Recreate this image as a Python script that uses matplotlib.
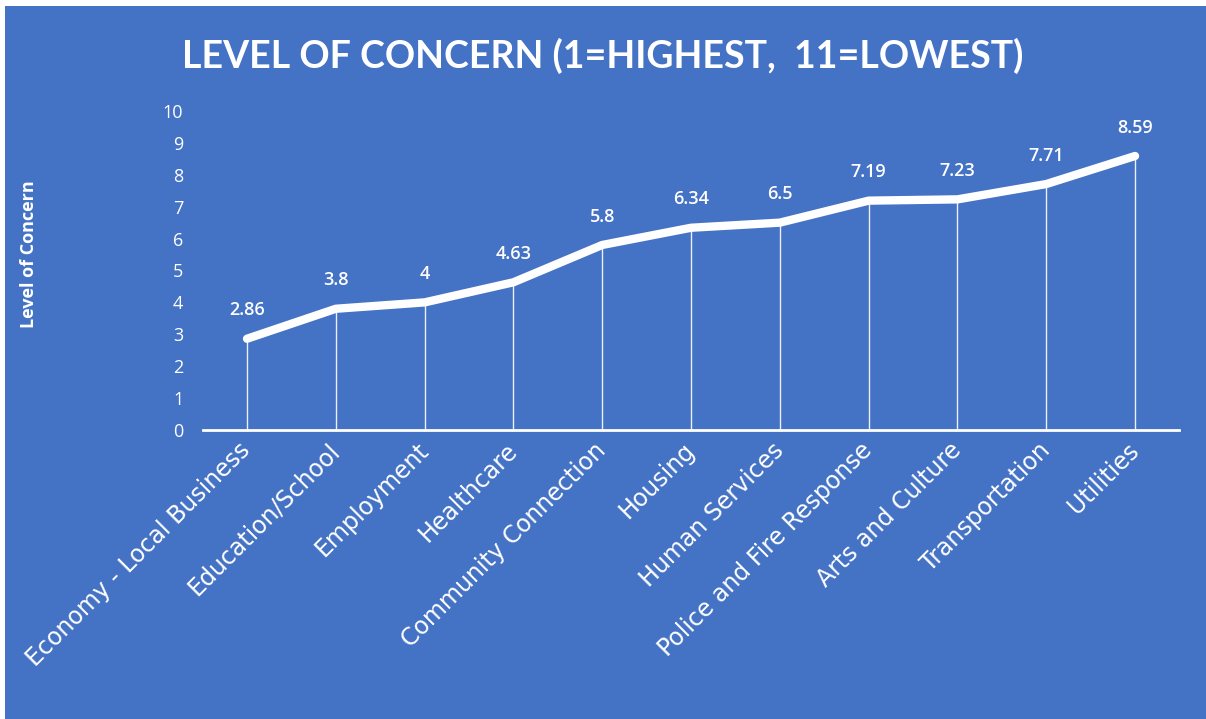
import matplotlib.pyplot as plt
import matplotlib.transforms as mtransforms
from matplotlib.patches import Rectangle

# Chart data
categories = ['Economy - Local Business', 'Education/School', 'Employment', 'Healthcare',
              'Community Connection', 'Housing', 'Human Services', 'Police and Fire Response',
              'Arts and Culture', 'Transportation', 'Utilities']
concern = [2.86, 3.8, 4, 4.63, 5.8, 6.34, 6.5, 7.19, 7.23, 7.71, 8.59]
value_labels = ['2.86', '3.8', '4', '4.63', '5.8', '6.34', '6.5', '7.19', '7.23', '7.71', '8.59']
y_ticks = list(range(0, 11))

BLUE = '#4472C4'
plt.rcParams['font.family'] = ['Open Sans', 'DejaVu Sans']

fig = plt.figure(figsize=(12.06, 7.19), dpi=100, facecolor='white')
# blue card with a thin white margin on top/left like the screenshot
fig.patches.append(Rectangle((0.004, 0.0), 0.996, 0.991, transform=fig.transFigure,
                             facecolor=BLUE, edgecolor='none', zorder=-5))

ax = fig.add_axes([0.168, 0.402, 0.810, 0.4436])
ax.set_facecolor('none')
ax.set_zorder(2)

x = list(range(len(categories)))
ax.vlines(x, 0, concern, color='white', lw=1.0, alpha=0.9, zorder=2)
ax.plot(x, concern, color='white', lw=6, solid_joinstyle='round',
        solid_capstyle='round', zorder=3)

for xi, v, lab in zip(x, concern, value_labels):
    ax.annotate(lab, (xi, v), xytext=(0, 14), textcoords='offset points',
                ha='center', va='bottom', color='white', fontsize=13,
                fontweight='semibold')

ax.set_xlim(-0.5, len(categories) - 0.5)
ax.set_ylim(0, 10)
ax.set_yticks(y_ticks)
ax.set_xticks(x)
ax.set_xticklabels(categories, rotation=45, ha='right', va='center',
                   rotation_mode='anchor', color='white')
shift = mtransforms.ScaledTranslation(6 / 72, 0, fig.dpi_scale_trans)
for lbl in ax.get_xticklabels():
    lbl.set_fontfamily('DejaVu Sans')
    lbl.set_fontsize(17)
    lbl.set_transform(lbl.get_transform() + shift)
ax.tick_params(axis='y', length=0, labelsize=13, labelcolor='white', pad=14)
ax.tick_params(axis='x', length=0, pad=12)

for s in ['top', 'right', 'left']:
    ax.spines[s].set_visible(False)
ax.spines['bottom'].set_color('white')
ax.spines['bottom'].set_linewidth(2)

ax.set_ylabel('Level of Concern', color='white', fontsize=13, fontweight='bold')
ax.yaxis.set_label_coords(-0.169, 0.55)

fig.text(0.5, 0.922, 'LEVEL OF CONCERN (1=HIGHEST,  11=LOWEST)', ha='center',
         va='center', color='white', fontsize=27, fontweight='bold',
         family=['Lato', 'DejaVu Sans'])

fig.savefig('out.png', dpi=100, facecolor=fig.get_facecolor())
